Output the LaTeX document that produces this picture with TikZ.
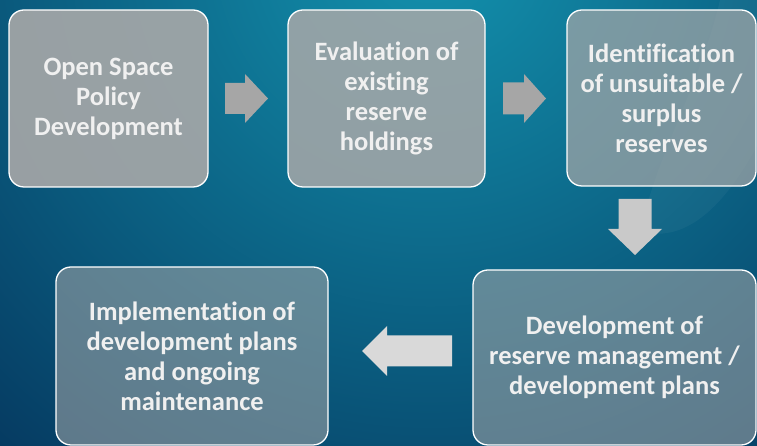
\documentclass[tikz,border=0pt]{standalone}
\usepackage{fontspec}
\setmainfont{Carlito}[Ligatures={NoCommon}]
\usetikzlibrary{calc}

\definecolor{bgtop}{HTML}{1392AE}
\definecolor{bgbottom}{HTML}{04335B}
\definecolor{boxgray}{HTML}{A8A8A8}
\definecolor{arrowdark}{HTML}{A6A6A6}
\definecolor{arrowmid}{HTML}{C9C9C9}
\definecolor{arrowlight}{HTML}{D9D9D9}
\definecolor{textwhite}{HTML}{F0F0F0}

% block arrow: #1 style, #2 centre, #3 angle, #4 length, #5 head length, #6 body width, #7 head width
\newcommand{\blockarr}[7]{%
  \fill[#1, shift={(#2)}, rotate=#3]
    ({-#4/2},{-#6/2}) -- ({#4/2-#5},{-#6/2}) -- ({#4/2-#5},{-#7/2}) --
    ({#4/2},0) -- ({#4/2-#5},{#7/2}) -- ({#4/2-#5},{#6/2}) --
    ({-#4/2},{#6/2}) -- cycle;}

\tikzset{
  stagebox/.style={draw=white, line width=1.3pt, rounded corners=15pt,
    fill=boxgray, text=textwhite, align=center,
    font=\bfseries\fontsize{26.5}{30}\selectfont, inner sep=0pt},
}

\begin{document}
\begin{tikzpicture}[x=1pt, y=1pt]
  \useasboundingbox (0,0) rectangle (757,446);
  \begin{scope}
    \clip (0,0) rectangle (757,446);
    % background gradient, brightest near the top
    \fill[bgbottom] (0,0) rectangle (757,446);
    \shade[inner color=bgtop, outer color=bgbottom] (430,500) circle (720);
    % faint light swoosh on the right
    \fill[white, opacity=0.04] (640,215) .. controls (660,300) and (700,360) .. (720,446)
      -- (757,446) -- (757,300) .. controls (730,250) and (690,200) .. (640,215) -- cycle;

    % stage boxes
    \node[stagebox, fill opacity=0.9, text opacity=1, minimum width=199pt, minimum height=177pt]
      (b1) at (108.5,347.5) {Open Space\\Policy\\Development};
    \node[stagebox, fill opacity=0.85, text opacity=1, minimum width=197pt, minimum height=177pt]
      (b2) at (386.5,347.5) {Evaluation of\\existing\\reserve\\holdings};
    \node[stagebox, fill opacity=0.7, text opacity=1, minimum width=189pt, minimum height=176pt]
      (b3) at (661.5,348) {Identification\\of unsuitable /\\surplus\\reserves};
    \node[stagebox, fill opacity=0.55, text opacity=1, minimum width=283pt, minimum height=175pt]
      (b4) at (614.5,88.5) {Development of\\reserve management /\\development plans};
    \node[stagebox, fill opacity=0.55, text opacity=1, minimum width=272pt, minimum height=178pt]
      (b5) at (192,90) {Implementation of\\development plans\\and ongoing\\maintenance};

    % arrows between stages
    \coordinate (a12) at (246.5,347.5);
    \coordinate (a23) at (524.5,347.5);
    \coordinate (a34) at (635,219);
    \coordinate (a45) at (407,95);
    \blockarr{arrowdark}{a12}{0}{43}{23}{31}{49}
    \blockarr{arrowdark}{a23}{0}{43}{22}{32}{49}
    \blockarr{arrowmid}{a34}{-90}{56}{26}{33}{54}
    \blockarr{arrowlight}{a45}{180}{90}{25}{31}{50}
  \end{scope}
\end{tikzpicture}
\end{document}
